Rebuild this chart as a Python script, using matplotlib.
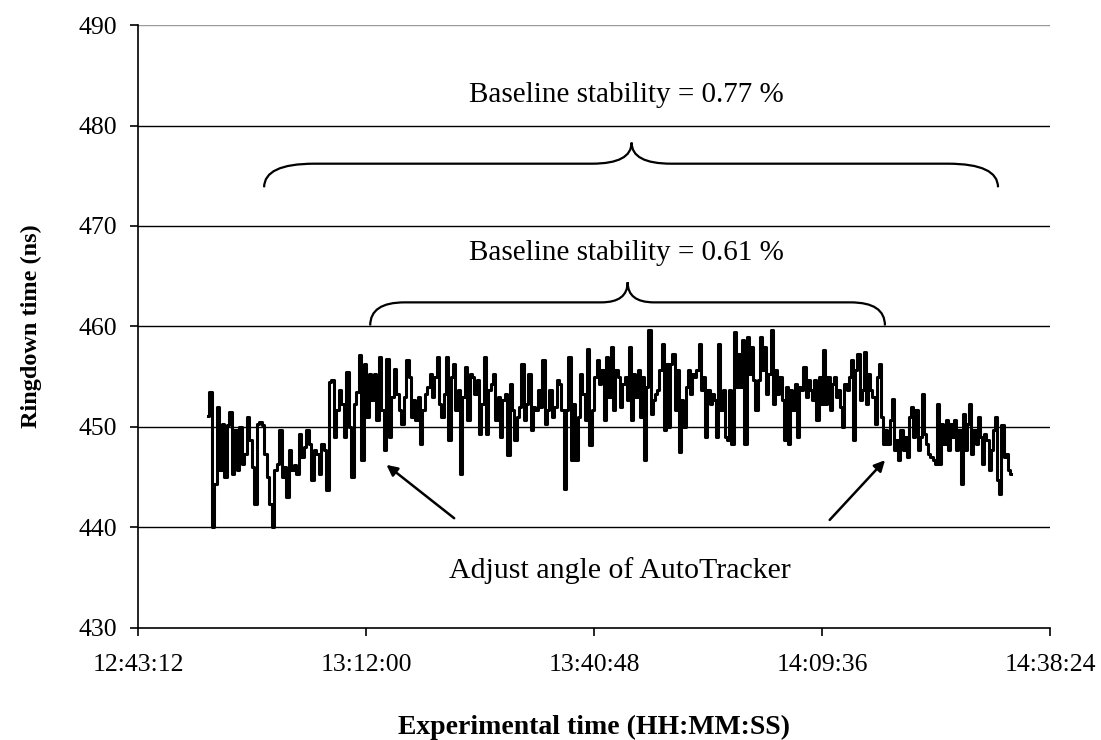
import matplotlib
matplotlib.use("Agg")
import matplotlib.pyplot as plt
from matplotlib.path import Path
from matplotlib.patches import PathPatch
from matplotlib.ticker import FuncFormatter
import numpy as np

plt.rcParams['font.family'] = ['Liberation Serif', 'DejaVu Serif']

# ringdown time (ns) in four runs (gaps between runs)
seg1_start, seg1_end = "12:52:03", "13:17:51"
seg1 = [451.1, 453.5, 440.0, 444.3, 452.0, 445.7, 450.3, 445.0, 450.2, 451.5,
        445.3, 449.7, 445.7, 450.0, 446.3, 447.3, 451.0, 448.7, 446.0, 442.3,
        450.3, 450.5, 450.2, 447.3, 445.0, 442.3, 440.0, 445.7, 446.3, 449.7,
        445.0, 446.0, 443.0, 447.7, 445.7, 446.2, 445.3, 449.3, 447.0, 448.0,
        449.7, 448.3, 444.7, 447.7, 447.3, 445.3, 448.3, 447.7, 443.7, 454.5,
        454.7, 449.0, 451.7, 453.7, 452.3, 449.0, 455.5, 450.0, 445.0, 452.3,
        453.5, 457.2, 446.7, 456.3, 451.0, 455.3, 452.7, 455.3, 450.7, 457.0,
        451.7, 447.7, 456.8, 449.0, 453.0, 455.8, 453.3, 451.7, 450.3, 453.0,
        456.7, 455.0, 451.0]

seg2_start, seg2_end = "13:18:06", "13:44:32"
seg2 = [452.7, 450.7, 453.0, 448.3, 451.7, 453.3, 454.0, 455.3, 453.0, 455.0,
        457.0, 452.3, 451.0, 453.3, 457.0, 448.7, 455.0, 456.3, 451.7, 453.7,
        445.3, 453.0, 456.0, 450.7, 455.3, 455.0, 453.3, 454.7, 449.3, 452.3,
        457.0, 449.3, 453.7, 454.3, 455.3, 450.7, 453.0, 449.0, 452.7, 453.3,
        447.2, 454.3, 451.7, 448.7, 451.0, 452.0, 456.3, 450.7, 452.3, 455.3,
        449.7, 452.0, 451.7, 453.7, 452.0, 456.7, 450.3, 451.7, 453.7, 451.0,
        452.0, 454.7, 454.3, 451.7, 443.8, 451.7, 457.0, 446.7, 452.3, 446.7,
        451.0, 455.3, 453.3, 450.7, 457.8, 448.2, 451.7, 455.0, 456.7, 454.3,
        455.7, 450.7, 457.0, 453.0, 458.0, 451.7, 455.7, 455.0, 452.0, 454.3]

seg3_start, seg3_end = "13:44:47", "14:10:58"
seg3 = [455.0, 452.7, 458.0, 450.7, 455.3, 453.0, 455.7, 451.0, 455.0, 446.7,
        454.0, 459.7, 451.3, 452.7, 453.3, 453.7, 455.7, 458.3, 449.7, 456.3,
        450.0, 456.3, 457.3, 451.7, 455.7, 447.5, 452.7, 450.0, 454.0, 455.7,
        453.3, 455.3, 455.0, 455.7, 458.3, 453.7, 455.0, 449.0, 453.7, 452.3,
        453.3, 452.7, 449.0, 458.3, 451.7, 453.7, 449.0, 448.7, 453.7, 448.3,
        459.5, 454.0, 457.3, 454.0, 458.7, 448.3, 459.0, 455.3, 458.0, 454.7,
        451.7, 454.7, 459.0, 455.7, 458.0, 453.3, 455.3, 459.7, 452.3, 455.7,
        453.3, 455.0, 452.7, 448.7, 454.0, 448.3, 453.7, 451.7, 454.3, 449.0,
        454.0, 453.7, 456.0, 453.0, 454.7, 453.7, 452.7, 454.7, 450.7, 455.0,
        452.3, 457.7, 452.3, 455.0, 451.7, 454.3]

seg4_start, seg4_end = "14:11:13", "14:33:29"
seg4 = [455.0, 453.0, 453.7, 452.0, 450.0, 454.3, 453.7, 455.0, 456.7, 448.7,
        455.7, 457.3, 452.7, 453.7, 457.5, 452.3, 455.3, 453.7, 453.0, 450.3,
        455.0, 456.3, 451.0, 448.3, 449.7, 448.3, 450.7, 452.8, 447.7, 448.7,
        446.7, 449.7, 447.7, 449.0, 447.0, 451.0, 452.0, 449.0, 451.7, 447.7,
        449.0, 453.3, 449.3, 448.3, 447.3, 447.0, 446.7, 446.3, 452.3, 446.3,
        450.3, 448.3, 450.7, 447.7, 450.3, 449.0, 450.7, 447.7, 449.7, 444.3,
        451.3, 447.7, 450.3, 452.3, 447.3, 449.7, 448.3, 451.0, 449.0, 446.3,
        449.3, 448.7, 445.7, 447.7, 449.7, 451.0, 444.7, 443.3, 450.2, 447.0,
        447.3, 445.7, 445.3]

x_ticks = ["12:43:12", "13:12:00", "13:40:48", "14:09:36", "14:38:24"]
y_ticks = [430, 440, 450, 460, 470, 480, 490]


def sec(hms):
    h, m, s = (int(v) for v in hms.split(":"))
    return h * 3600 + m * 60 + s


def hms(x, pos=None):
    x = int(round(x))
    return "%d:%02d:%02d" % (x // 3600, (x // 60) % 60, x % 60)


t = np.concatenate([np.linspace(sec(a), sec(b), len(v)) for a, b, v in
                    [(seg1_start, seg1_end, seg1), (seg2_start, seg2_end, seg2),
                     (seg3_start, seg3_end, seg3), (seg4_start, seg4_end, seg4)]])
y = np.array(seg1 + seg2 + seg3 + seg4)

fig = plt.figure(figsize=(11.01, 7.40), dpi=100)
ax = fig.add_axes([0.1253, 0.1514, 0.8284, 0.8148])

for v in y_ticks[1:-1]:
    ax.axhline(v, color='black', lw=1.0, zorder=1)
ax.axhline(490, color='#999999', lw=1.0, zorder=1)

ax.plot(t, y, color='black', lw=2.2, drawstyle='steps-mid', zorder=3)

xt = [sec(s) for s in x_ticks]
ax.set_xlim(xt[0], xt[-1])
ax.set_ylim(430, 490)
ax.set_xticks(xt)
ax.xaxis.set_major_formatter(FuncFormatter(hms))
ax.set_yticks(y_ticks)

for s in ['top', 'right']:
    ax.spines[s].set_visible(False)
for s in ['left', 'bottom']:
    ax.spines[s].set_linewidth(1.2)
ax.tick_params(axis='both', direction='out', length=6, width=1.2, labelsize=18.5)
ax.tick_params(axis='x', pad=13)
ax.tick_params(axis='y', pad=9)

ax.set_ylabel("Ringdown time (ns)", fontsize=17.5, fontweight='bold', labelpad=26)
ax.set_xlabel("Experimental time (HH:MM:SS)", fontsize=20, fontweight='bold', labelpad=28)


def brace(x0, xtip, x1, y_end, y_mid, y_tip, w_end, w_tip):
    verts = [(x0, y_end), (x0, y_mid), (x0 + w_end, y_mid),
             (xtip - w_tip, y_mid),
             (xtip, y_mid), (xtip, y_tip),
             (xtip, y_mid), (xtip + w_tip, y_mid),
             (x1 - w_end, y_mid),
             (x1, y_mid), (x1, y_end)]
    codes = [Path.MOVETO, Path.CURVE3, Path.CURVE3, Path.LINETO,
             Path.CURVE3, Path.CURVE3, Path.CURVE3, Path.CURVE3,
             Path.LINETO, Path.CURVE3, Path.CURVE3]
    ax.add_patch(PathPatch(Path(verts, codes), fill=False, lw=1.6,
                           color='black', zorder=4))


t0 = sec(x_ticks[0])
brace(t0 + 956, t0 + 3741, t0 + 6518, 473.85, 476.2, 478.3, 380, 300)
brace(t0 + 1760, t0 + 3711, t0 + 5661, 460.1, 462.4, 464.4, 260, 200)

ax.text(t0 + 3703, 483.0, "Baseline stability = 0.77 %", fontsize=21,
        ha='center', va='center')
ax.text(t0 + 3703, 467.3, "Baseline stability = 0.61 %", fontsize=21,
        ha='center', va='center')
ax.text(t0 + 3650, 435.7, "Adjust angle of AutoTracker", fontsize=21.5,
        ha='center', va='center')

arrow = dict(arrowstyle='-|>', color='black', lw=1.8, mutation_scale=16)
ax.annotate("", xy=(t0 + 1867, 446.4), xytext=(t0 + 2413, 440.75), arrowprops=arrow)
ax.annotate("", xy=(t0 + 5676, 446.9), xytext=(t0 + 5228, 440.55), arrowprops=arrow)

plt.savefig("out.png", dpi=100)
